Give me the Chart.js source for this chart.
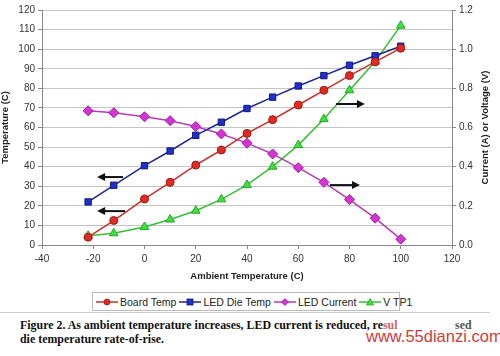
<!DOCTYPE html>
<html>
<head>
<meta charset="utf-8">
<script src="https://cdn.jsdelivr.net/npm/chart.js@4.4.0/dist/chart.umd.min.js"></script>
<style>
  html,body{margin:0;padding:0;background:#fff;}
  #wrap{position:relative;width:500px;height:356px;overflow:hidden;background:#fff;}
  #chartBox{position:absolute;left:0;top:0;width:500px;height:290px;}
  #legend{position:absolute;left:92px;top:292px;width:306px;height:17px;border:1px solid #bbb;
    font-family:"Liberation Sans",Arial,sans-serif;font-size:10.5px;color:#222;display:flex;align-items:center;white-space:nowrap;}
  #legend span.item{display:inline-flex;align-items:center;margin-left:3px;}
  #legend svg{margin-right:2px;}
  #sep{position:absolute;left:0;top:312px;width:490px;height:1px;background:#ccc;}
  .cap{position:absolute;font-family:"Liberation Serif","Times New Roman",serif;font-weight:bold;font-size:11.9px;color:#111;white-space:nowrap;}
  #wm{position:absolute;left:366px;top:327px;font-family:"Liberation Sans",Arial,sans-serif;font-size:16.5px;color:#d23a3a;white-space:nowrap;}
</style>
</head>
<body>
<div id="wrap">
  <div id="chartBox"><canvas id="c" width="500" height="290"></canvas></div>
  <div id="legend"></div>
  <div id="sep"></div>
  <div class="cap" style="left:20px;top:318px;">Figure 2. As ambient temperature increases, LED current is reduced, re<span style="color:#c66;">sul</span></div>
  <div class="cap" style="left:455px;top:318px;color:#555;">sed</div>
  <div class="cap" style="left:20px;top:332px;">die temperature rate-of-rise.</div>
  <div id="wm">www.55dianzi.com</div>
</div>
<script>
// ---- data ----
const ambientTemps = [-22, -12, 0, 10, 20, 30, 40, 50, 60, 70, 80, 90, 100];
const boardTemp   = [4, 12.5, 23.5, 32, 40.8, 48.5, 57, 64, 71.5, 79, 86.5, 93.5, 100.5];
const ledDieTemp  = [22, 30.5, 40.5, 48, 56, 62.7, 69.7, 75.5, 81.2, 86.5, 91.8, 96.6, 101.5];
const ledCurrent  = [0.685, 0.675, 0.655, 0.635, 0.605, 0.567, 0.52, 0.465, 0.395, 0.32, 0.232, 0.137, 0.03];
const vTP1        = [0.047, 0.06, 0.092, 0.13, 0.175, 0.233, 0.307, 0.40, 0.51, 0.643, 0.79, 0.937, 1.12];
const seriesNames = ["Board Temp", "LED Die Temp", "LED Current", "V TP1"];
const xTicks = [-40, -20, 0, 20, 40, 60, 80, 100, 120];
const leftTicks = [0, 10, 20, 30, 40, 50, 60, 70, 80, 90, 100, 110, 120];
const rightTicks = [0.0, 0.2, 0.4, 0.6, 0.8, 1.0, 1.2];
// annotation arrows: [xFrom, xTo, y, axis]
const arrows = [
  [-8.4, -18.5, 34.7, 'y'],
  [-7.6, -18.5, 17.3, 'y'],
  [74.7, 86, 0.72, 'y2'],
  [72.4, 84.1, 0.306, 'y2']
];

const toXY = vals => vals.map((v, i) => ({x: ambientTemps[i], y: v}));

const styles = [
  {line:'#c8302a', fill:'#e02a22', border:'#a01a14', pt:'circle', r:4},
  {line:'#1c2690', fill:'#1f30cc', border:'#121a80', pt:'rect', r:4.5},
  {line:'#b53cb5', fill:'#d632d6', border:'#a020a0', pt:'rectRot', r:5},
  {line:'#35c035', fill:'#3fe03f', border:'#22a822', pt:'triangle', r:5}
];
const dataArrs = [boardTemp, ledDieTemp, ledCurrent, vTP1];
const axes = ['y', 'y', 'y2', 'y2'];

const datasets = dataArrs.map((arr, i) => ({
  label: seriesNames[i],
  data: toXY(arr),
  yAxisID: axes[i],
  borderColor: styles[i].line,
  borderWidth: 1.5,
  backgroundColor: styles[i].fill,
  pointBackgroundColor: styles[i].fill,
  pointBorderColor: styles[i].border,
  pointBorderWidth: 1,
  pointStyle: styles[i].pt,
  pointRadius: styles[i].r,
  tension: 0,
  fill: false
}));

// HTML legend
const legendEl = document.getElementById('legend');
const svgMarker = (s) => {
  let m = '';
  if (s.pt === 'circle') m = `<circle cx="11" cy="5" r="3" fill="${s.fill}" stroke="${s.border}" stroke-width="0.8"/>`;
  else if (s.pt === 'rect') m = `<rect x="8" y="2" width="6" height="6" fill="${s.fill}" stroke="${s.border}" stroke-width="0.8"/>`;
  else if (s.pt === 'rectRot') m = `<polygon points="11,1.5 14.5,5 11,8.5 7.5,5" fill="${s.fill}" stroke="${s.border}" stroke-width="0.8"/>`;
  else m = `<polygon points="11,1.5 14.5,8 7.5,8" fill="${s.fill}" stroke="${s.border}" stroke-width="0.8"/>`;
  return `<svg width="22" height="10" viewBox="0 0 22 10"><line x1="0" y1="5" x2="22" y2="5" stroke="${s.line}" stroke-width="1.5"/>${m}</svg>`;
};
legendEl.innerHTML = seriesNames.map((n, i) => `<span class="item">${svgMarker(styles[i])}${n}</span>`).join('');

const overlay = {
  id: 'overlay',
  afterDatasetsDraw(chart) {
    const ctx = chart.ctx;
    const xs = chart.scales.x;
    ctx.save();
    ctx.strokeStyle = '#111';
    ctx.fillStyle = '#111';
    ctx.lineWidth = 2;
    arrows.forEach(a => {
      const ys = chart.scales[a[3]];
      const x1 = xs.getPixelForValue(a[0]);
      const x2 = xs.getPixelForValue(a[1]);
      const y = ys.getPixelForValue(a[2]);
      const dir = Math.sign(x2 - x1);
      ctx.beginPath();
      ctx.moveTo(x1, y);
      ctx.lineTo(x2 - dir * 6, y);
      ctx.stroke();
      ctx.beginPath();
      ctx.moveTo(x2, y);
      ctx.lineTo(x2 - dir * 8, y - 4);
      ctx.lineTo(x2 - dir * 8, y + 4);
      ctx.closePath();
      ctx.fill();
    });
    // right axis title (reads bottom to top)
    const ca = chart.chartArea;
    ctx.translate(485, (ca.top + ca.bottom) / 2);
    ctx.rotate(-Math.PI / 2);
    ctx.font = 'bold 9.5px "Liberation Sans", Arial, sans-serif';
    ctx.fillStyle = '#222';
    ctx.textAlign = 'center';
    ctx.textBaseline = 'middle';
    ctx.fillText('Current (A) or Voltage (V)', 0, 0);
    ctx.restore();
  }
};

const tickFont = {family: '"Liberation Sans", Arial, sans-serif', size: 10};
const titleFont = {family: '"Liberation Sans", Arial, sans-serif', size: 9.5, weight: 'bold'};

new Chart(document.getElementById('c'), {
  type: 'line',
  data: {datasets},
  options: {
    responsive: false,
    animation: false,
    layout: {padding: {top: 10, left: 0, right: 0, bottom: 0}},
    plugins: {legend: {display: false}, tooltip: {enabled: false}},
    scales: {
      x: {
        type: 'linear', min: xTicks[0], max: xTicks[xTicks.length - 1],
        afterBuildTicks: s => { s.ticks = xTicks.map(v => ({value: v})); },
        ticks: {font: tickFont, color: '#333', padding: 4, maxRotation: 0},
        grid: {drawOnChartArea: false, drawTicks: true, tickLength: 4, tickColor: '#888'},
        border: {display: true, color: '#888', width: 1},
        title: {display: true, text: 'Ambient Temperature (C)', font: titleFont, color: '#222', padding: {top: 0, bottom: 8}},
        afterFit: s => { s.height = 45; }
      },
      y: {
        position: 'left', min: 0, max: 120,
        afterBuildTicks: s => { s.ticks = leftTicks.map(v => ({value: v})); },
        ticks: {font: tickFont, color: '#333', padding: 3},
        grid: {color: '#c4c4c4', lineWidth: 1, tickLength: 4, tickColor: '#888'},
        border: {display: true, color: '#888', width: 1},
        title: {display: true, text: 'Temperature (C)', font: titleFont, color: '#222', padding: 0},
        afterFit: s => { s.width = 42; }
      },
      y2: {
        position: 'right', min: 0, max: 1.2,
        afterBuildTicks: s => { s.ticks = rightTicks.map(v => ({value: v})); },
        ticks: {font: tickFont, color: '#333', padding: 3, callback: v => v.toFixed(1)},
        grid: {drawOnChartArea: false, tickLength: 4, tickColor: '#888'},
        border: {display: true, color: '#888', width: 1},
        afterFit: s => { s.width = 48; }
      }
    }
  },
  plugins: [overlay]
});
</script>
</body>
</html>
